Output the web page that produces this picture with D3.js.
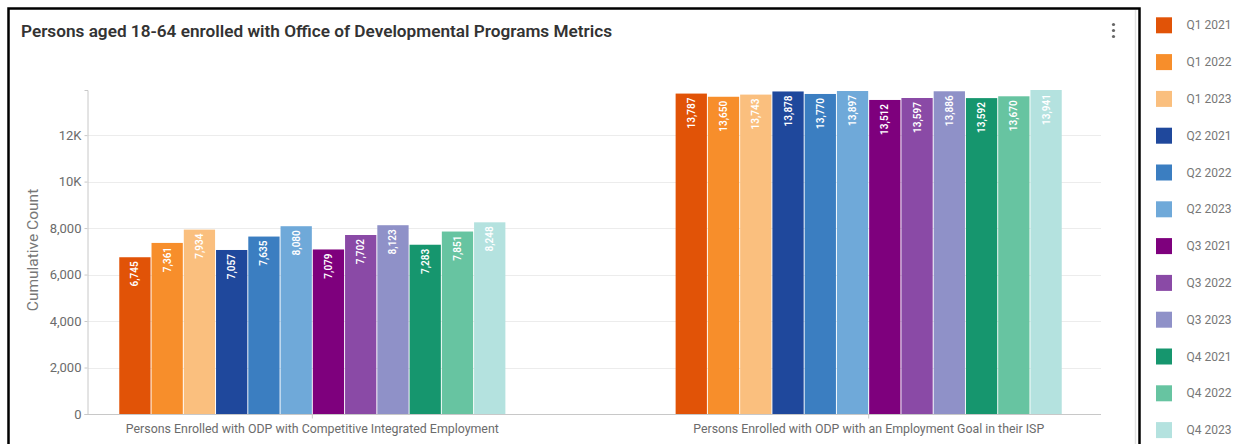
<!DOCTYPE html>
<html>
<head>
<meta charset="utf-8">
<script src="https://cdn.jsdelivr.net/npm/d3@7"></script>
<style>
  html, body { margin: 0; padding: 0; background: #fff; }
  svg { display: block; font-family: Roboto, "Noto Sans", Arial, sans-serif; }
</style>
</head>
<body>
<svg id="chart" width="1233" height="444"></svg>
<script>
// ---- data ----
const categories = [
  "Persons Enrolled with ODP with Competitive Integrated Employment",
  "Persons Enrolled with ODP with an Employment Goal in their ISP"
];
const seriesNames = ["Q1 2021","Q1 2022","Q1 2023","Q2 2021","Q2 2022","Q2 2023",
                     "Q3 2021","Q3 2022","Q3 2023","Q4 2021","Q4 2022","Q4 2023"];
const competitiveValues = [6745, 7361, 7934, 7057, 7635, 8080, 7079, 7702, 8123, 7283, 7851, 8248];
const goalValues = [13787, 13650, 13743, 13878, 13770, 13897, 13512, 13597, 13886, 13592, 13670, 13941];
const seriesColors = ["#e15307","#f78e2b","#fabf7e","#1f489c","#3b7ec1","#6fa9d9",
                      "#7e007d","#8a4aa6","#8f91c8","#16966e","#67c4a1","#b4e2df"];
const yTicks = [0, 2000, 4000, 6000, 8000, 10000, 12000];
const yTickLabels = ["0", "2,000", "4,000", "6,000", "8,000", "10K", "12K"];
const titleText = "Persons aged 18-64 enrolled with Office of Developmental Programs Metrics";
const yAxisTitle = "Cumulative Count";

const valuesByCategory = [competitiveValues, goalValues];
const rows = [];
categories.forEach((c, ci) => seriesNames.forEach((s, si) => rows.push({cat: c, series: s, value: valuesByCategory[ci][si], si})));

const svg = d3.select("#chart");

// frame
svg.append("rect").attr("x", 8.5).attr("y", 8.5).attr("width", 1131).attr("height", 600)
  .attr("fill", "none").attr("stroke", "#000").attr("stroke-width", 2.5);
svg.append("line").attr("x1", 1135.5).attr("x2", 1135.5).attr("y1", 10).attr("y2", 444)
  .attr("stroke", "#e2e2e2").attr("stroke-width", 1.5);

// title
svg.append("text").attr("x", 21).attr("y", 37)
  .attr("font-size", 16).attr("font-weight", 600).attr("fill", "#333")
  .attr("textLength", 591).attr("lengthAdjust", "spacingAndGlyphs")
  .text(titleText);

// kebab menu
svg.append("g").selectAll("circle").data([24.5, 30.5, 36.5]).join("circle")
  .attr("cx", 1113.5).attr("cy", d => d).attr("r", 1.6).attr("fill", "#666");

// scales
const y = d3.scaleLinear().domain([0, d3.max(rows, d => d.value)]).range([414, 90]);
const x0 = d3.scaleBand().domain(categories).range([87, 1094]).paddingInner(0.306).paddingOuter(0.058);
const x1 = d3.scaleBand().domain(seriesNames).range([0, x0.bandwidth()]).paddingInner(0.03).paddingOuter(0);
const color = d3.scaleOrdinal().domain(seriesNames).range(seriesColors);

// gridlines
svg.append("g").selectAll("line").data(yTicks.filter(d => d > 0)).join("line")
  .attr("x1", 88).attr("x2", 1101).attr("y1", d => Math.round(y(d)) + 0.5).attr("y2", d => Math.round(y(d)) + 0.5)
  .attr("stroke", "#ececec").attr("stroke-width", 1);

// y axis
const yAxis = svg.append("g").attr("transform", "translate(87.5,0)")
  .call(d3.axisLeft(y).tickValues(yTicks).tickFormat((d, i) => yTickLabels[i]).tickSize(3).tickSizeOuter(3).tickPadding(3));
yAxis.select(".domain").attr("stroke", "#c8c8c8");
yAxis.selectAll(".tick line").attr("stroke", "#c8c8c8");
yAxis.selectAll(".tick text").attr("font-size", 13).attr("fill", "#6b6b6b").attr("font-family", "Roboto, sans-serif");

// y axis title
svg.append("text").attr("transform", "translate(38,250) rotate(-90)")
  .attr("text-anchor", "middle").attr("font-size", 15.5).attr("fill", "#777")
  .text(yAxisTitle);

// bars
const groups = svg.append("g").selectAll("g").data(categories).join("g")
  .attr("transform", d => `translate(${x0(d)},0)`);
groups.selectAll("rect").data(c => rows.filter(r => r.cat === c)).join("rect")
  .attr("x", d => x1(d.series)).attr("width", x1.bandwidth())
  .attr("y", d => y(d.value)).attr("height", d => y(0) - y(d.value))
  .attr("fill", d => color(d.series));
groups.selectAll("text").data(c => rows.filter(r => r.cat === c)).join("text")
  .attr("transform", d => `translate(${x1(d.series) + x1.bandwidth() / 2},${y(d.value) + 4}) rotate(-90)`)
  .attr("text-anchor", "end").attr("dy", "0.35em")
  .attr("font-size", 10).attr("font-weight", 600).attr("fill", "#fff")
  .text(d => d3.format(",")(d.value));

// x axis
const xAxis = svg.append("g").attr("transform", "translate(0,414.5)")
  .call(d3.axisBottom(x0).tickSize(4).tickSizeOuter(0).tickPadding(6));
xAxis.select(".domain").attr("d", "M87,0H1101").attr("stroke", "#c8c8c8");
xAxis.selectAll(".tick line").attr("stroke", "#c8c8c8");
const xLabelWidths = [373, 351];
xAxis.selectAll(".tick text").attr("font-size", 12).attr("fill", "#6b6b6b").attr("font-family", "Roboto, sans-serif")
  .attr("y", 18).attr("dy", 0)
  .attr("textLength", (d, i) => xLabelWidths[i]).attr("lengthAdjust", "spacingAndGlyphs");

// legend
const legend = svg.append("g").selectAll("g").data(seriesNames).join("g")
  .attr("transform", (d, i) => `translate(1156,${17.3 + i * 36.8})`);
legend.append("rect").attr("width", 16).attr("height", 16).attr("fill", d => color(d));
legend.append("text").attr("x", 30.5).attr("y", 8).attr("dy", "0.35em")
  .attr("font-size", 12).attr("fill", "#777").text(d => d);
</script>
</body>
</html>
